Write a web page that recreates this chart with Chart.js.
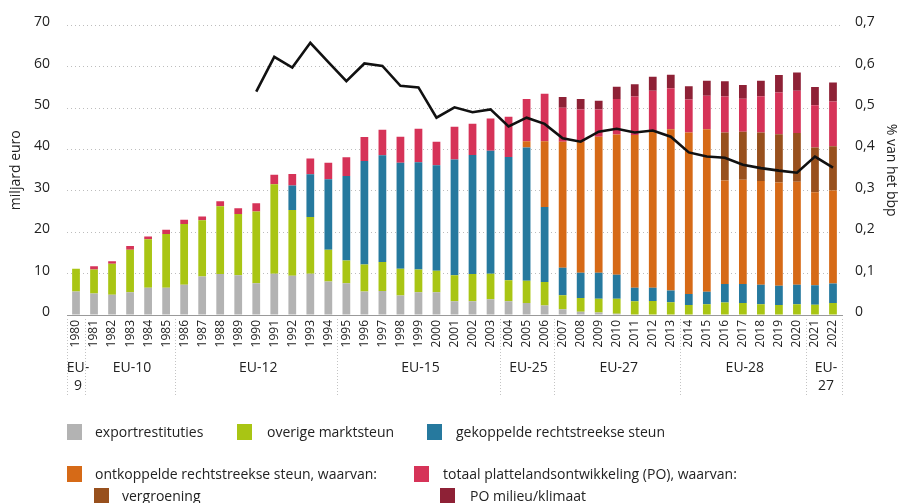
<!DOCTYPE html>
<html>
<head>
<meta charset="utf-8">
<script src="https://cdn.jsdelivr.net/npm/chart.js@4/dist/chart.umd.min.js"></script>
<style>
    body { margin: 0; background: #fff; }
    #wrap { position: relative; width: 899px; height: 503px; overflow: hidden; font-family: "Open Sans", sans-serif; color: #222; }
    #chart { position: absolute; left: 0; top: 0; }
    .sw { position: absolute; width: 15px; height: 16px; }
    .lt { position: absolute; font-size: 14px; line-height: 16px; white-space: nowrap; }
</style>
</head>
<body>
<div id="wrap">
    <canvas id="chart" width="899" height="503"></canvas>

    <div class="sw" style="left:67px;top:424px;background:#b3b3b3"></div>
    <div class="lt" style="left:95px;top:424px">exportrestituties</div>
    <div class="sw" style="left:237px;top:424px;background:#a9c514"></div>
    <div class="lt" style="left:267px;top:424px">overige marktsteun</div>
    <div class="sw" style="left:427px;top:424px;background:#26799e"></div>
    <div class="lt" style="left:456px;top:424px">gekoppelde rechtstreekse steun</div>

    <div class="sw" style="left:67px;top:466px;background:#d66a17"></div>
    <div class="lt" style="left:95px;top:466px">ontkoppelde rechtstreekse steun, waarvan:</div>
    <div class="sw" style="left:414px;top:466px;background:#d63358"></div>
    <div class="lt" style="left:443px;top:466px">totaal plattelandsontwikkeling (PO), waarvan:</div>

    <div class="sw" style="left:94px;top:488px;background:#98501d"></div>
    <div class="lt" style="left:122px;top:488px">vergroening</div>
    <div class="sw" style="left:440px;top:488px;background:#8e2136"></div>
    <div class="lt" style="left:470px;top:488px">PO milieu/klimaat</div>
</div>

<script>
// years on the x axis
var years = ['1980', '1981', '1982', '1983', '1984', '1985', '1986', '1987', '1988', '1989',
    '1990', '1991', '1992', '1993', '1994', '1995', '1996', '1997', '1998', '1999',
    '2000', '2001', '2002', '2003', '2004', '2005', '2006', '2007', '2008', '2009',
    '2010', '2011', '2012', '2013', '2014', '2015', '2016', '2017', '2018', '2019',
    '2020', '2021', '2022'];

// miljard euro (stacked segments)
var exportrestituties = [5.7, 5.2, 4.9, 5.5, 6.6, 6.6, 7.3, 9.3, 9.9, 9.6,
    7.7, 10.0, 9.5, 10.0, 8.1, 7.7, 5.7, 5.8, 4.7, 5.5,
    5.5, 3.3, 3.3, 3.8, 3.3, 2.9, 2.3, 1.4, 0.8, 0.6,
    0.3, 0.1, 0.1, 0, 0, 0, 0, 0, 0, 0,
    0, 0, 0];
var overigeMarktsteun = [5.5, 5.8, 7.5, 10.3, 11.7, 13.0, 14.7, 13.6, 16.4, 14.8,
    17.3, 21.6, 15.9, 13.7, 7.7, 5.5, 6.5, 7.0, 6.5, 5.5,
    5.2, 6.3, 6.6, 6.2, 5.1, 5.4, 5.7, 3.4, 3.3, 3.3,
    3.6, 3.2, 3.3, 3.1, 2.4, 2.6, 3.0, 2.9, 2.6, 2.4,
    2.6, 2.5, 2.9];
var gekoppeld = [0, 0, 0, 0, 0, 0, 0, 0, 0, 0,
    0, 0, 5.9, 10.3, 17.0, 20.4, 25.0, 25.8, 25.6, 25.9,
    25.5, 28.0, 28.8, 29.7, 29.8, 32.2, 18.1, 6.6, 6.1, 6.3,
    5.8, 3.3, 3.2, 2.8, 2.7, 3.0, 4.5, 4.6, 4.7, 4.7,
    4.7, 4.7, 4.7];
var ontkoppeld = [0, 0, 0, 0, 0, 0, 0, 0, 0, 0,
    0, 0, 0, 0, 0, 0, 0, 0, 0, 0,
    0, 0, 0, 0, 0, 1.5, 15.9, 30.5, 31.7, 32.9,
    33.9, 36.9, 37.7, 39.0, 39.0, 39.3, 25.0, 25.2, 25.1, 24.9,
    24.9, 22.5, 22.5];
var vergroening = [0, 0, 0, 0, 0, 0, 0, 0, 0, 0,
    0, 0, 0, 0, 0, 0, 0, 0, 0, 0,
    0, 0, 0, 0, 0, 0, 0, 0, 0, 0,
    0, 0, 0, 0, 0, 0, 11.6, 11.6, 11.7, 11.7,
    11.8, 10.8, 10.7];
var plattelandsontw = [0, 0.8, 0.6, 0.9, 0.7, 1.0, 1.0, 0.9, 1.2, 1.4,
    2.0, 2.3, 2.8, 3.8, 4.0, 4.5, 5.8, 6.2, 6.3, 8.1,
    5.7, 7.9, 7.5, 7.8, 9.7, 10.2, 11.5, 8.2, 7.8, 6.6,
    8.6, 9.3, 9.9, 9.9, 8.0, 8.1, 8.7, 8.0, 8.8, 10.1,
    10.2, 10.2, 10.8];
var poMilieu = [0, 0, 0, 0, 0, 0, 0, 0, 0, 0,
    0, 0, 0, 0, 0, 0, 0, 0, 0, 0,
    0, 0, 0, 0, 0, 0, 0, 2.6, 2.5, 2.1,
    3.0, 3.0, 3.4, 3.3, 3.2, 3.6, 3.7, 3.3, 3.7, 4.2,
    4.4, 4.4, 4.6];

// % van het bbp (right axis)
var bbp = [null, null, null, null, null, null, null, null, null, null,
    0.54, 0.624, 0.598, 0.658, 0.611, 0.565, 0.608, 0.602, 0.554, 0.55,
    0.477, 0.502, 0.49, 0.497, 0.456, 0.477, 0.462, 0.427, 0.419, 0.443,
    0.45, 0.441, 0.446, 0.431, 0.393, 0.383, 0.38, 0.363, 0.355, 0.349,
    0.344, 0.383, 0.356];

// EU member groups under the axis
var groupNames = [['EU-', '9'], ['EU-10'], ['EU-12'], ['EU-15'], ['EU-25'], ['EU-27'], ['EU-28'], ['EU-', '27']];
var groupFirst = ['1980', '1981', '1986', '1995', '2004', '2007', '2014', '2021'];
var groupLast = ['1980', '1985', '1994', '2003', '2006', '2013', '2020', '2022'];

var textColor = '#222';
var tickFont = { family: 'Open Sans', size: 14 };

// draws the EU-x labels and the dotted separators
var groupPlugin = {
    id: 'groupLabels',
    afterDraw: function (chart) {
        var ctx = chart.ctx;
        var xs = chart.scales.x;
        var step = (xs.right - xs.left) / years.length;
        ctx.save();
        ctx.strokeStyle = '#c4c4c4';
        ctx.lineWidth = 1;
        ctx.setLineDash([1, 2]);
        ctx.fillStyle = textColor;
        ctx.font = '14px "Open Sans"';
        ctx.textAlign = 'center';
        ctx.textBaseline = 'middle';
        for (var g = 0; g < groupNames.length; g++) {
            var left = xs.getPixelForValue(years.indexOf(groupFirst[g])) - step / 2;
            var right = xs.getPixelForValue(years.indexOf(groupLast[g])) + step / 2;
            var lines = [left];
            if (g === groupNames.length - 1) lines.push(right);
            lines.forEach(function (px) {
                var lx = Math.round(px) + 0.5;
                ctx.beginPath();
                ctx.moveTo(lx, xs.top + 4);
                ctx.lineTo(lx, xs.top + 81);
                ctx.stroke();
            });
            var mid = (left + right) / 2 + 2;
            for (var k = 0; k < groupNames[g].length; k++) {
                ctx.fillText(groupNames[g][k], mid, xs.top + 53 + k * 18);
            }
        }
        ctx.restore();
    }
};

function barSet(label, data, color) {
    return {
        type: 'bar',
        label: label,
        data: data,
        backgroundColor: color,
        stack: 'a',
        yAxisID: 'y',
        order: 1,
        categoryPercentage: 1,
        barPercentage: 0.43
    };
}

var ctx = document.getElementById('chart').getContext('2d');
new Chart(ctx, {
    data: {
        labels: years,
        datasets: [
            {
                type: 'line',
                label: '% van het bbp',
                data: bbp,
                yAxisID: 'y2',
                borderColor: '#111',
                borderWidth: 2.6,
                pointRadius: 0,
                tension: 0,
                fill: false,
                order: 0
            },
            barSet('exportrestituties', exportrestituties, '#b3b3b3'),
            barSet('overige marktsteun', overigeMarktsteun, '#a9c514'),
            barSet('gekoppelde rechtstreekse steun', gekoppeld, '#26799e'),
            barSet('ontkoppelde rechtstreekse steun', ontkoppeld, '#d66a17'),
            barSet('vergroening', vergroening, '#98501d'),
            barSet('totaal plattelandsontwikkeling (PO)', plattelandsontw, '#d63358'),
            barSet('PO milieu/klimaat', poMilieu, '#8e2136')
        ]
    },
    options: {
        responsive: false,
        animation: false,
        layout: { padding: { top: 22, left: 0, right: 0, bottom: 0 } },
        plugins: {
            legend: { display: false },
            tooltip: { enabled: false }
        },
        scales: {
            x: {
                stacked: true,
                grid: { display: false, drawTicks: false },
                border: { display: true, color: '#9a9a9a', width: 1 },
                ticks: {
                    autoSkip: false,
                    minRotation: 90,
                    maxRotation: 90,
                    padding: 5,
                    color: textColor,
                    font: { family: 'Open Sans', size: 12 }
                },
                afterFit: function (scale) { scale.height = 188; }
            },
            y: {
                position: 'left',
                stacked: true,
                min: 0,
                max: 70,
                grid: { color: '#bdbdbd', drawTicks: false },
                border: { display: false, dash: [1, 3] },
                ticks: { stepSize: 10, padding: 17, labelOffset: -3, color: textColor, font: tickFont },
                title: {
                    display: true,
                    text: 'miljard euro',
                    color: textColor,
                    font: tickFont,
                    padding: { top: 8, bottom: 0 }
                },
                afterFit: function (scale) { scale.width = 67; }
            },
            y2: {
                position: 'right',
                min: 0,
                max: 0.7,
                grid: { display: false, drawTicks: false },
                border: { display: false },
                ticks: {
                    stepSize: 0.1,
                    padding: 13,
                    labelOffset: -3,
                    color: textColor,
                    font: tickFont,
                    callback: function (v) { return v === 0 ? '0' : v.toFixed(1).replace('.', ','); }
                },
                title: {
                    display: true,
                    text: '% van het bbp',
                    color: textColor,
                    font: tickFont,
                    padding: { top: 0, bottom: 0 }
                },
                afterFit: function (scale) { scale.width = 57; }
            }
        }
    },
    plugins: [groupPlugin]
});
</script>
</body>
</html>
